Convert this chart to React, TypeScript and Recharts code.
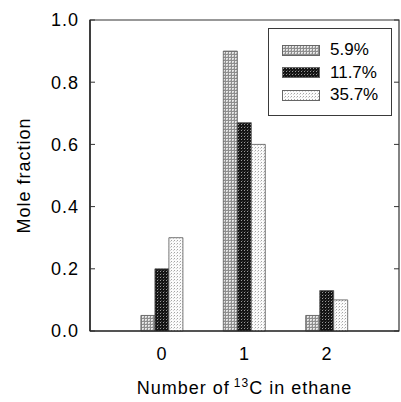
import React from "react";
import {
  BarChart,
  Bar,
  XAxis,
  YAxis,
  Legend,
  ReferenceArea,
} from "recharts";

const groups = [0, 1, 2];
const frac59 = [0.05, 0.9, 0.05];
const frac117 = [0.2, 0.67, 0.13];
const frac357 = [0.3, 0.6, 0.1];
const seriesNames = ["5.9%", "11.7%", "35.7%"];
const yTicks = [0, 0.2, 0.4, 0.6, 0.8, 1.0];
const xDomain = [-0.875, 2.875];

const data = groups.map((g, i) => ({
  n: g,
  s1: frac59[i],
  s2: frac117[i],
  s3: frac357[i],
}));

const series = [
  { key: "s1", name: seriesNames[0], fill: "url(#dotMid)" },
  { key: "s2", name: seriesNames[1], fill: "url(#dotDark)" },
  { key: "s3", name: seriesNames[2], fill: "url(#dotLight)" },
];

const W = 401;
const H = 402;
const MARGIN = { top: 20, right: 2, left: 0, bottom: 0 };
const PLOT_RIGHT = W - MARGIN.right;

const font = "'Liberation Sans', Arial, sans-serif";

// stipple fills for the three series
const Patterns = () => (
  <defs>
    <pattern id="dotMid" width="3" height="3" patternUnits="userSpaceOnUse">
      <rect width="3" height="3" fill="#8e8e8e" />
      <rect x="1" y="1" width="2" height="2" fill="#e6e6e6" />
      <rect x="2" y="2" width="1" height="1" fill="#bcbcbc" />
    </pattern>
    <pattern id="dotDark" width="3" height="3" patternUnits="userSpaceOnUse">
      <rect width="3" height="3" fill="#141414" />
      <rect x="1" y="1" width="1" height="1" fill="#9a9a9a" />
      <rect x="2" y="0" width="1" height="1" fill="#3c3c3c" />
    </pattern>
    <pattern id="dotLight" width="3" height="3" patternUnits="userSpaceOnUse">
      <rect width="3" height="3" fill="#fbfbfb" />
      <rect x="0" y="0" width="1" height="1" fill="#a4a4a4" />
      <rect x="2" y="1" width="1" height="1" fill="#d2d2d2" />
    </pattern>
  </defs>
);

const LegendBox = () => (
  <div
    style={{
      position: "relative",
      width: 122,
      height: 86,
      border: "1px solid #3a3a3a",
      background: "#fff",
      fontFamily: font,
      fontSize: 17,
      color: "#000",
    }}
  >
    {series.map((s, i) => (
      <div
        key={s.key}
        style={{
          position: "absolute",
          left: 13,
          top: 10 + i * 22.5,
          height: 22,
          display: "flex",
          alignItems: "center",
        }}
      >
        <svg width={38} height={11} style={{ display: "block" }}>
          <rect x={0.5} y={0.5} width={37} height={10} fill={s.fill} stroke="#666" />
        </svg>
        <span style={{ marginLeft: 10, lineHeight: "22px" }}>{s.name}</span>
      </div>
    ))}
  </div>
);

// left tick label plus the small inward tick on the right frame edge
const YTick = (props: any) => {
  const { x, y, payload } = props;
  return (
    <g>
      <text
        x={x}
        y={y}
        dy="0.355em"
        textAnchor="end"
        fontFamily={font}
        fontSize={18}
        letterSpacing={1}
        fill="#000"
      >
        {payload.value.toFixed(1)}
      </text>
      <line x1={PLOT_RIGHT - 5} x2={PLOT_RIGHT} y1={y} y2={y} stroke="#333" />
    </g>
  );
};

const YTitle = ({ viewBox }: any) => {
  const x = viewBox.x + 30;
  const y = viewBox.y + viewBox.height / 2;
  return (
    <text
      x={x}
      y={y}
      transform={`rotate(-90, ${x}, ${y})`}
      textAnchor="middle"
      fontFamily={font}
      fontSize={18}
      letterSpacing={1}
      fill="#000"
    >
      Mole fraction
    </text>
  );
};

const XTitle = ({ viewBox }: any) => (
  <text
    x={viewBox.x + viewBox.width / 2}
    y={viewBox.y + 63}
    textAnchor="middle"
    fontFamily={font}
    fontSize={18}
    letterSpacing={1}
    fill="#000"
  >
    Number of
    <tspan fontSize={12} dy={-7} dx={4}>13</tspan>
    <tspan dy={7}>C in ethane</tspan>
  </text>
);

export default function App() {
  return (
    <div style={{ position: "absolute", left: 0, top: 0, background: "#fff" }}>
      <BarChart
        width={W}
        height={H}
        data={data}
        margin={MARGIN}
        barSize={14}
        barGap={0}
      >
        <Patterns />
        <XAxis
          dataKey="n"
          type="number"
          domain={xDomain}
          ticks={groups}
          height={71}
          axisLine={{ stroke: "#111", strokeWidth: 1.2 }}
          tickLine={false}
          tickSize={6}
          tickMargin={10}
          tick={{ fontFamily: font, fontSize: 18, fill: "#000", letterSpacing: 1 }}
          label={<XTitle />}
        />
        <YAxis
          type="number"
          domain={[0, 1]}
          ticks={yTicks}
          width={90}
          axisLine={{ stroke: "#111", strokeWidth: 1.2 }}
          tickLine={{ stroke: "#333" }}
          tickSize={-5}
          tickMargin={16}
          tick={<YTick />}
          label={<YTitle />}
        />
        {/* box frame around the plot area */}
        <ReferenceArea
          x1={xDomain[0]}
          x2={xDomain[1]}
          y1={0}
          y2={1}
          fill="none"
          stroke="#333"
          strokeWidth={1.2}
          ifOverflow="visible"
        />
        <Legend
          layout="horizontal"
          verticalAlign="middle"
          align="center"
          wrapperStyle={{ left: 268, top: 28, width: 124, height: 88 }}
          content={<LegendBox />}
        />
        {series.map((s) => (
          <Bar
            key={s.key}
            dataKey={s.key}
            name={s.name}
            fill={s.fill}
            stroke="#555"
            strokeWidth={0.8}
            isAnimationActive={false}
          />
        ))}
      </BarChart>
    </div>
  );
}
